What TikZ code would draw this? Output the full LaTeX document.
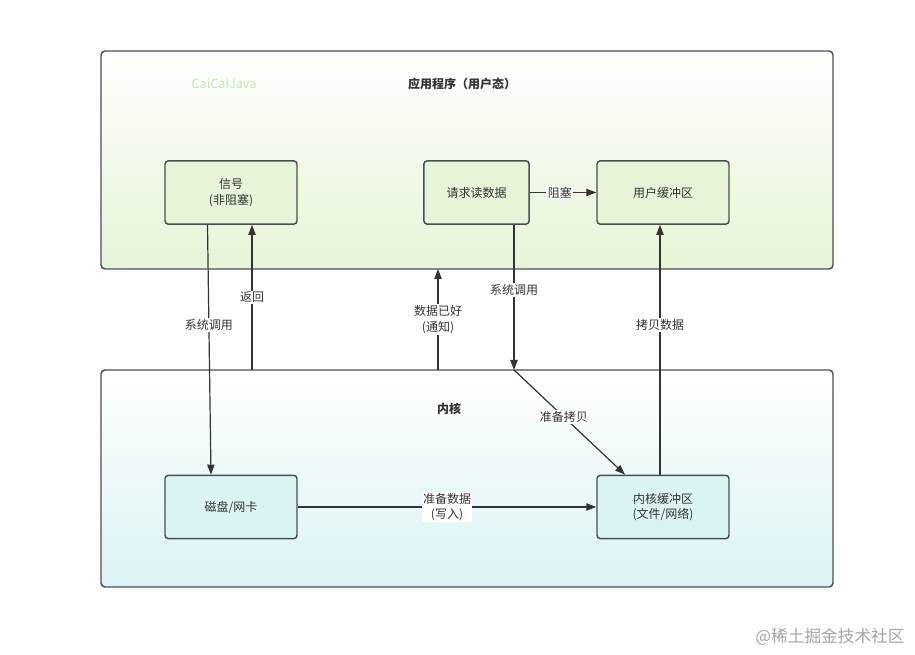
\documentclass[tikz,border=0pt]{standalone}
\usepackage{fontspec}
\setmainfont{Noto Sans CJK SC}
\usetikzlibrary{arrows.meta}
\definecolor{lineC}{HTML}{333333}
\definecolor{boxC}{HTML}{4A4F55}
\definecolor{greenF}{HTML}{E6F5D8}
\definecolor{greenB}{HTML}{E5F5D6}
\definecolor{cyanF}{HTML}{DAF3F3}
\definecolor{cyanB}{HTML}{DBF3F4}
\definecolor{txtC}{HTML}{333333}
\definecolor{wmGreen}{HTML}{C3E8AE}
\tikzset{
  proc/.style={draw=boxC, line width=1.1pt, rounded corners=2.5pt, minimum width=99pt, minimum height=47.5pt, align=center, text=txtC, font=\fontsize{9}{11.5}\selectfont},
  gproc/.style={proc, fill=greenF},
  cproc/.style={proc, fill=cyanF},
  conn/.style={draw=lineC, line width=0.9pt, -{Triangle[length=7.5pt,width=5.5pt]}},
  lbl/.style={fill=white, inner sep=1pt, text=txtC, font=\fontsize{9}{11.5}\selectfont, align=center},
  ttl/.style={text=txtC, font=\fontsize{9}{11}\selectfont\bfseries}
}
\begin{document}
\begin{tikzpicture}[x=0.75pt,y=-0.75pt]
\useasboundingbox (0,0) rectangle (915,655);
\fill[white] (0,0) rectangle (915,655);
% containers
\shade[top color=white, bottom color=greenB, rounded corners=3pt] (101,51) rectangle (833,269);
\draw[boxC, line width=1.1pt, rounded corners=3pt] (101,51) rectangle (833,269);
\shade[top color=white, bottom color=cyanB, rounded corners=3pt] (101,370) rectangle (833,587);
\draw[boxC, line width=1.1pt, rounded corners=3pt] (101,370) rectangle (833,587);
\node[text=wmGreen, font=\fontsize{9.5}{11}\selectfont] (wm1) at (224,84) {CaiCaiJava};
\node[ttl] (t1) at (462,84) {应用程序（用户态）};
\node[ttl] (t2) at (449,409) {内核};
% nodes
\node[gproc] (sig) at (231,192.5) {信号\\(非阻塞)};
\node[gproc, minimum width=79pt] (req) at (476.5,192.5) {请求读数据};
\node[gproc] (ubuf) at (663,192.5) {用户缓冲区};
\node[cproc] (disk) at (231,507) {磁盘/网卡};
\node[cproc] (kbuf) at (663,507) {内核缓冲区\\(文件/网络)};
% helper coordinates
\coordinate (retS) at (252,370);
\coordinate (notS) at (438,370);
\coordinate (notE) at (438,269);
\coordinate (scE) at (514,370);
% connectors
\draw[conn] (sig.south -| 207.5,0) -- (disk.north -| 211,0) node[lbl, pos=0.4] {系统调用};
\draw[conn] (retS) -- (sig.south -| retS) node[lbl, pos=0.5] {返回};
\draw[conn] (notS) -- (notE) node[lbl, pos=0.5] {数据已好\\(通知)};
\draw[conn] (req.south -| scE) -- (scE) node[lbl, pos=0.45] {系统调用};
\draw[conn] (scE) -- (kbuf.north -| 625,0) node[lbl, pos=0.45] {准备拷贝};
\draw[conn] (kbuf.north -| 660,0) -- (ubuf.south -| 660,0) node[lbl, pos=0.6] {拷贝数据};
\draw[conn] (req.east) -- (ubuf.west) node[lbl, pos=0.45] {阻塞};
\draw[conn] (disk.east) -- (kbuf.west) node[lbl, pos=0.5] {准备数据\\(写入)};
% watermark
\node[text=black!35, font=\fontsize{12.5}{14}\selectfont] (wm2) at (830,637) {@稀土掘金技术社区};
\end{tikzpicture}
\end{document}
